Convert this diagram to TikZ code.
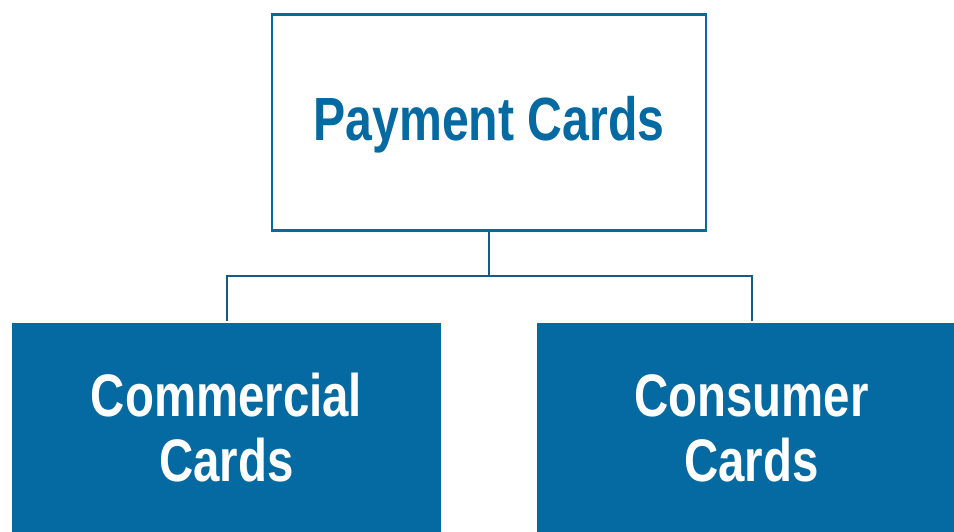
\documentclass[tikz,border=0pt]{standalone}
\usepackage{fontspec}
\setmainfont{Liberation Sans}[FakeStretch=0.79]
\definecolor{cardblue}{RGB}{5,106,162}
\definecolor{linkblue}{RGB}{22,90,135}
\begin{document}
\begin{tikzpicture}[x=1pt,y=-1pt,
  rootbox/.style={draw=cardblue, line width=2.5pt, fill=white, text=cardblue,
    minimum width=434pt, minimum height=216pt, inner sep=0pt,
    font=\fontsize{61}{66}\selectfont\bfseries},
  childbox/.style={fill=cardblue, text=white, minimum width=429pt,
    minimum height=210pt, inner sep=0pt, align=center,
    font=\fontsize{60}{65}\selectfont\bfseries},
  link/.style={draw=linkblue, line width=2pt}]
\useasboundingbox (0,0) rectangle (954,531);
\clip (0,0) rectangle (954,531);
% parent and the two card families
\node[rootbox] (root) at (489,122.5) {};
\node[text=cardblue, font=\fontsize{61}{66}\selectfont\bfseries, inner sep=0pt]
  (roottext) at (489,125) {Payment Cards};
\node[childbox] (commercial) at (226.5,428) {Commercial\\Cards};
\node[childbox] (consumer) at (751.5,428) {Consumer\\Cards};
% tree connector
\coordinate (bus) at (489,276);
\draw[link] (root.south) -- (bus);
\draw[link, shorten <=2pt, shorten >=2pt] (commercial.north) |- (bus) -| (consumer.north);
\end{tikzpicture}
\end{document}
